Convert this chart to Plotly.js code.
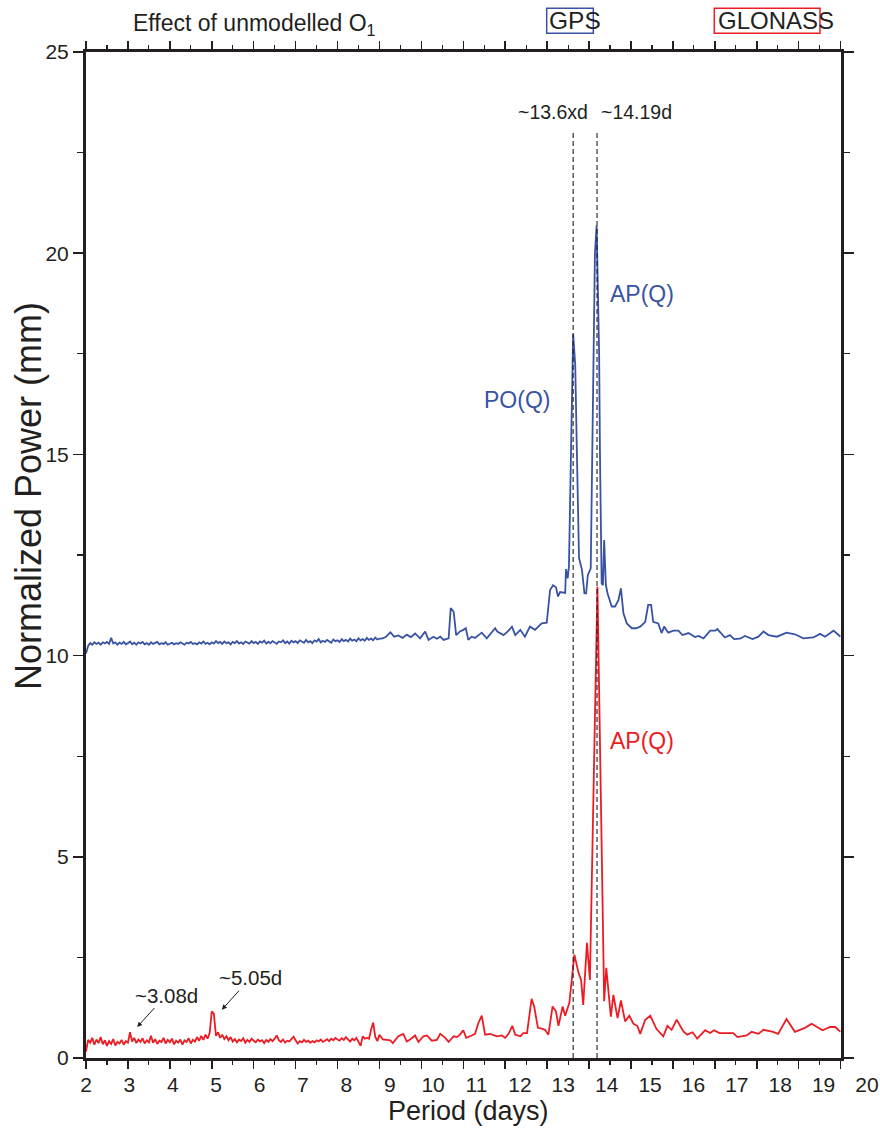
<!DOCTYPE html>
<html><head><meta charset="utf-8">
<script src="https://cdn.plot.ly/plotly-3.0.1.min.js"></script>
<style>html,body{margin:0;padding:0;background:#fff;}</style>
</head><body><div id="chart" style="width:880px;height:1130px;"></div>
<script>
// ---------------- data ----------------
const periodLow = [
2,2.05,2.1,2.15,2.2,2.25,2.3,2.35,2.4,2.45,
2.5,2.55,2.6,2.65,2.7,2.75,2.8,2.85,2.9,2.95,
3,3.05,3.1,3.15,3.2,3.25,3.3,3.35,3.4,3.45,
3.5,3.55,3.6,3.65,3.7,3.75,3.8,3.85,3.9,3.95,
4,4.05,4.1,4.15,4.2,4.25,4.3,4.35,4.4,4.45,
4.5,4.55,4.6,4.65,4.7,4.75,4.8,4.85,4.9,4.95,
5,5.05,5.1,5.15,5.2,5.25,5.3,5.35,5.4,5.45,
5.5,5.55,5.6,5.65,5.7,5.75,5.8,5.85,5.9,5.95,
6,6.05,6.1,6.15,6.2,6.25,6.3,6.35,6.4,6.45,
6.5,6.55,6.6,6.65,6.7,6.75,6.8,6.85,6.9,6.95,
7,7.05,7.1,7.15,7.2,7.25,7.3,7.35,7.4,7.45,
7.5,7.55,7.6,7.65,7.7,7.75,7.8,7.85,7.9,7.95,
8,8.05,8.1,8.15,8.2,8.25,8.3,8.35,8.4,8.45,
8.5,8.55,8.6,8.65,8.7,8.75,8.8,8.85,8.9,8.95,
9];
const gpsPowerLow = [
10.05,10.24,10.31,10.27,10.33,10.29,10.32,10.27,10.33,10.30,
10.34,10.29,10.44,10.30,10.33,10.27,10.32,10.29,10.34,10.28,
10.31,10.35,10.28,10.32,10.27,10.33,10.30,10.34,10.28,10.31,
10.27,10.33,10.29,10.32,10.34,10.28,10.31,10.29,10.33,10.27,
10.30,10.32,10.28,10.31,10.29,10.33,10.30,10.27,10.32,10.30,
10.34,10.29,10.31,10.28,10.33,10.30,10.35,10.29,10.32,10.28,
10.33,10.30,10.36,10.31,10.34,10.29,10.35,10.31,10.33,10.28,
10.34,10.31,10.36,10.30,10.33,10.29,10.35,10.32,10.30,10.36,
10.31,10.34,10.29,10.35,10.32,10.37,10.30,10.34,10.31,10.36,
10.32,10.29,10.35,10.33,10.38,10.31,10.35,10.30,10.37,10.33,
10.36,10.31,10.38,10.34,10.32,10.39,10.33,10.36,10.31,10.38,
10.35,10.41,10.33,10.37,10.34,10.39,10.35,10.32,10.40,10.36,
10.38,10.34,10.41,10.36,10.39,10.35,10.42,10.37,10.40,10.36,
10.43,10.38,10.41,10.37,10.44,10.39,10.42,10.38,10.45,10.40,
10.42];
const glonassPowerLow = [
0.16,0.45,0.38,0.50,0.33,0.46,0.37,0.52,0.34,0.44,
0.30,0.42,0.35,0.47,0.31,0.40,0.36,0.45,0.33,0.42,
0.38,0.64,0.41,0.50,0.37,0.46,0.40,0.49,0.36,0.44,
0.39,0.55,0.38,0.47,0.35,0.43,0.40,0.50,0.36,0.45,
0.39,0.48,0.34,0.43,0.38,0.46,0.33,0.44,0.40,0.49,
0.36,0.45,0.41,0.52,0.43,0.55,0.45,0.58,0.48,0.62,
1.16,1.10,0.55,0.64,0.50,0.58,0.47,0.54,0.44,0.52,
0.41,0.47,0.39,0.46,0.42,0.49,0.38,0.45,0.40,0.48,
0.43,0.39,0.46,0.41,0.44,0.37,0.45,0.40,0.47,0.42,
0.48,0.56,0.44,0.40,0.46,0.38,0.43,0.41,0.47,0.53,
0.44,0.36,0.42,0.39,0.45,0.40,0.43,0.38,0.42,0.39,
0.44,0.41,0.46,0.40,0.43,0.47,0.42,0.48,0.44,0.50,
0.46,0.43,0.49,0.45,0.52,0.46,0.41,0.48,0.44,0.50,
0.38,0.30,0.54,0.48,0.50,0.48,0.70,0.88,0.53,0.42,
0.58];
const gpsPeriodHigh = [
9.05,9.15,9.26,9.35,9.45,9.55,9.65,9.75,9.85,9.97,
10.09,10.17,10.29,10.37,10.45,10.53,10.65,10.70,10.77,10.83,
10.92,11.00,11.06,11.12,11.20,11.28,11.36,11.44,11.56,11.66,
11.76,11.81,11.96,12.08,12.16,12.24,12.36,12.47,12.59,12.71,
12.87,12.99,13.07,13.14,13.21,13.26,13.31,13.43,13.45,13.49,
13.52,13.62,13.67,13.71,13.76,13.83,13.89,13.93,13.97,14.04,
14.14,14.18,14.24,14.26,14.30,14.33,14.36,14.40,14.44,14.54,
14.62,14.70,14.76,14.82,14.90,15.02,15.12,15.22,15.34,15.41,
15.48,15.53,15.65,15.73,15.79,15.89,16.01,16.13,16.23,16.37,
16.53,16.61,16.73,16.89,17.01,17.06,17.24,17.36,17.46,17.60,
17.72,17.90,18.04,18.16,18.28,18.48,18.71,18.91,19.11,19.35,
19.51,19.63,19.83,20.00];
const gpsPowerHigh = [
10.42,10.46,10.58,10.47,10.50,10.44,10.52,10.46,10.55,10.43,
10.60,10.39,10.47,10.42,10.47,10.39,10.43,11.18,11.09,10.51,
10.60,10.64,10.68,10.39,10.47,10.44,10.51,10.57,10.43,10.55,
10.68,10.60,10.51,10.62,10.72,10.51,10.64,10.47,10.72,10.64,
10.80,10.82,11.63,11.75,11.70,11.47,11.58,11.56,12.15,11.92,
12.21,17.99,17.22,15.03,12.43,12.13,11.55,11.55,12.00,12.17,
20.00,20.69,17.50,15.03,11.80,11.75,12.87,11.76,11.55,11.22,
11.22,11.38,11.67,11.05,10.80,10.68,10.68,10.72,10.84,11.26,
11.26,10.84,10.80,10.56,10.72,10.57,10.62,10.62,10.51,10.56,
10.46,10.49,10.43,10.62,10.62,10.66,10.45,10.51,10.41,10.42,
10.49,10.41,10.47,10.60,10.51,10.47,10.57,10.53,10.43,10.45,
10.54,10.47,10.62,10.47];
const glonassPeriodHigh = [
9.08,9.26,9.32,9.45,9.57,9.65,9.73,9.85,9.93,10.05,
10.13,10.25,10.37,10.45,10.57,10.65,10.77,10.85,10.92,11.00,
11.07,11.20,11.28,11.36,11.44,11.52,11.64,11.80,11.92,12.00,
12.08,12.17,12.24,12.36,12.43,12.52,12.63,12.69,12.78,12.87,
12.95,13.03,13.13,13.21,13.27,13.37,13.43,13.53,13.65,13.75,
13.81,13.86,13.95,14.02,14.20,14.36,14.41,14.52,14.58,14.68,
14.76,14.86,14.96,15.06,15.15,15.22,15.34,15.46,15.61,15.77,
15.87,15.97,16.09,16.25,16.34,16.47,16.58,16.77,16.89,16.98,
17.11,17.44,17.54,17.76,17.88,18.04,18.16,18.39,18.51,18.71,
18.91,19.15,19.31,19.57,19.75,19.87,20.00];
const glonassPowerHigh = [
0.46,0.44,0.37,0.54,0.60,0.41,0.46,0.56,0.40,0.54,
0.56,0.43,0.45,0.60,0.50,0.40,0.54,0.52,0.58,0.69,
0.50,0.56,0.60,0.87,1.05,0.58,0.60,0.54,0.56,0.50,
0.60,0.80,0.58,0.54,0.62,0.62,1.47,1.28,0.75,0.73,
0.70,0.58,1.28,1.16,0.80,1.28,1.05,1.37,2.57,2.11,
1.94,1.32,2.86,1.94,11.71,1.41,2.24,1.03,1.57,0.99,
1.43,0.91,1.05,0.85,0.80,0.60,0.95,1.05,0.72,0.54,
0.80,0.70,0.95,0.66,0.58,0.64,0.48,0.69,0.62,0.69,
0.62,0.62,0.52,0.56,0.65,0.60,0.70,0.65,0.60,0.97,
0.65,0.75,0.85,0.69,0.77,0.77,0.65];
const markedPeriods = [13.62, 14.19];
const markedLabels = ['~13.6xd', '~14.19d'];
const tickPeriods = [2,3,4,5,6,7,8,9,10,11,12,13,14,15,16,17,18,19,20];
const yTicks = [0,5,10,15,20,25];

// ---------------- styling ----------------
const INK = '#231f20', BLUE = '#3953a4', RED = '#ec1c24';
const FONT = 'Liberation Sans, Arial, Helvetica, sans-serif';
const W = 880, H = 1130, L = 86, R = 13, T = 52, B = 72;
const px2x = px => (px - L) / (W - L - R);
const py2y = py => (H - B - py) / (H - T - B);
const xDomainEnd = px2x(840.6);

const gpsPeriod = periodLow.concat(gpsPeriodHigh);
const gpsPower = gpsPowerLow.concat(gpsPowerHigh);
const glonassPeriod = periodLow.concat(glonassPeriodHigh);
const glonassPower = glonassPowerLow.concat(glonassPowerHigh);

const traces = [
  {x: gpsPeriod, y: gpsPower, type: 'scatter', mode: 'lines', name: 'GPS',
   line: {color: BLUE, width: 1.8}, hoverinfo: 'skip'},
  {x: glonassPeriod, y: glonassPower, type: 'scatter', mode: 'lines', name: 'GLONASS',
   line: {color: RED, width: 1.8}, hoverinfo: 'skip'},
  {x: [2, 20], y: [null, null], xaxis: 'x2', yaxis: 'y', type: 'scatter', mode: 'lines',
   showlegend: false, hoverinfo: 'skip', line: {width: 0}}
];

const shapes = markedPeriods.map(p => ({
  type: 'line', xref: 'x', yref: 'y', x0: p, x1: p, y0: 0, y1: 23.0,
  line: {color: INK, width: 1.1, dash: '5px,3px'}, layer: 'above'
}));
shapes.push({type: 'rect', xref: 'paper', yref: 'paper',
  x0: px2x(546.7), x1: px2x(593.3), y0: py2y(33.3), y1: py2y(8.3),
  line: {color: BLUE, width: 1.5}});
shapes.push({type: 'rect', xref: 'paper', yref: 'paper',
  x0: px2x(714.3), x1: px2x(820), y0: py2y(33.3), y1: py2y(8.3),
  line: {color: RED, width: 1.5}});

const ann = (text, px, py, size, color, extra) => Object.assign({
  text: text, xref: 'paper', yref: 'paper', x: px2x(px), y: py2y(py),
  xanchor: 'center', yanchor: 'middle', showarrow: false,
  font: {family: FONT, size: size, color: color || INK}
}, extra || {});

const annotations = [
  ann('Effect of unmodelled O<sub>1</sub>', 254, 24, 23),
  ann('GPS', 575, 21, 24.5),
  ann('GLONASS', 776, 21, 24),
  ann(markedLabels[0], 553, 112, 19.5),
  ann(markedLabels[1], 636, 112, 19.5),
  ann('AP(Q)', 642, 294, 23, BLUE),
  ann('PO(Q)', 517, 400, 23, BLUE),
  ann('AP(Q)', 642, 741, 23, RED),
  ann('Normalized Power (mm)', 28, 496, 36, INK, {textangle: -90}),
  ann('Period (days)', 468, 1111, 27),
  {text: '~3.08d', xref: 'x', yref: 'y', x: 3.22, y: 0.77, ax: 29, ay: -32,
   showarrow: true, arrowhead: 2, arrowsize: 1, arrowwidth: 1, arrowcolor: INK,
   font: {family: FONT, size: 20.5, color: INK}},
  {text: '~5.05d', xref: 'x', yref: 'y', x: 5.24, y: 1.20, ax: 29, ay: -32,
   showarrow: true, arrowhead: 2, arrowsize: 1, arrowwidth: 1, arrowcolor: INK,
   font: {family: FONT, size: 20.5, color: INK}}
];

const layout = {
  width: W, height: H,
  margin: {l: L, r: R, t: T, b: B, pad: 0},
  paper_bgcolor: '#ffffff', plot_bgcolor: 'rgba(0,0,0,0)',
  showlegend: false,
  font: {family: FONT, color: INK},
  xaxis: {
    domain: [0, xDomainEnd], range: [2, 20], showticklabels: false,
    showline: true, linecolor: INK, linewidth: 3, mirror: 'ticks',
    ticks: 'outside', tickvals: tickPeriods, ticklen: 8, tickwidth: 1.5, tickcolor: INK,
    minor: {ticks: 'outside', dtick: 0.5, ticklen: 4, tickwidth: 1.2, tickcolor: INK},
    showgrid: false, zeroline: false
  },
  xaxis2: {
    domain: [0, 1], range: [2, 20], anchor: 'y', side: 'bottom',
    tickvals: tickPeriods, ticktext: tickPeriods.map(String),
    ticks: 'outside', ticklen: 8, tickcolor: 'rgba(0,0,0,0)',
    tickfont: {family: FONT, size: 21, color: INK},
    showline: false, showgrid: false, zeroline: false
  },
  yaxis: {
    range: [0, 25], tickvals: yTicks,
    showline: true, linecolor: INK, linewidth: 3, mirror: 'ticks',
    ticks: 'outside', ticklen: 10, tickwidth: 1.5, tickcolor: INK,
    minor: {ticks: 'outside', dtick: 2.5, ticklen: 6, tickwidth: 1.2, tickcolor: INK},
    tickfont: {family: FONT, size: 21, color: INK},
    showgrid: false, zeroline: false
  },
  shapes: shapes,
  annotations: annotations
};

Plotly.newPlot('chart', traces, layout, {staticPlot: true, displayModeBar: false});
</script></body></html>
